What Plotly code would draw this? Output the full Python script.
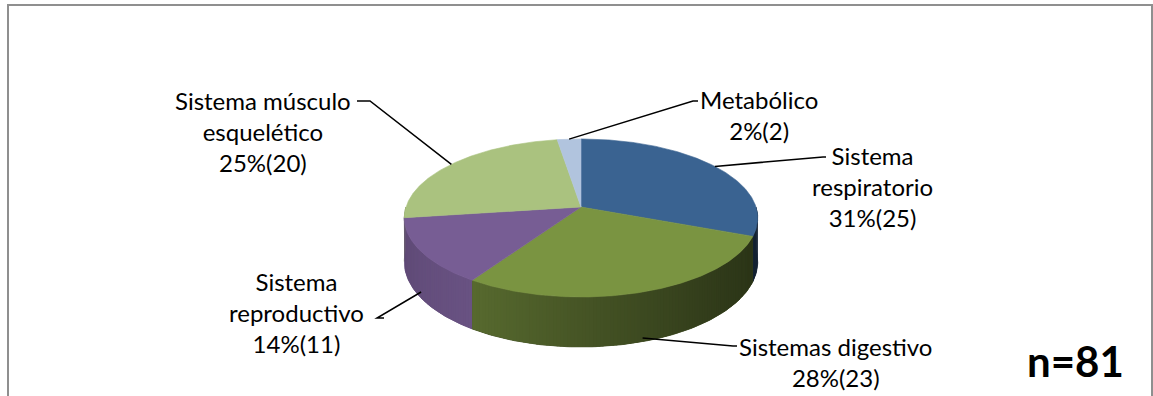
import numpy as np
import plotly.graph_objects as go

# Data
categories = ["Sistema respiratorio", "Sistemas digestivo", "Sistema reproductivo",
              "Sistema músculo esquelético", "Metabólico"]
counts = [25, 23, 11, 20, 2]
label_texts = [
    "Sistema<br>respiratorio<br>31%(25)",
    "Sistemas digestivo<br>28%(23)",
    "Sistema<br>reproductivo<br>14%(11)",
    "Sistema músculo<br>esquelético<br>25%(20)",
    "Metabólico<br>2%(2)",
]
top_colors = ["#3A6391", "#7A9441", "#775D94", "#AAC27F", "#B1C4DE"]
total_label = "n=81"

# Pie geometry (drawing units = pixels of the canvas)
CX, CY = 581.0, 207.0      # centre of the top face
A, B = 175.0, 77.5         # radii of the tilted disc
K = 0.139                  # perspective strength (front looks larger)
H = 43.0                   # thickness of the disc

def proj(phi_deg, r=1.0, depth=0.0):
    phi = np.radians(phi_deg)
    u = r * np.sin(phi)
    v = -r * np.cos(phi)
    s = 1.0 / (1.0 - K * v)
    return CX + A * u * s, CY + B * v * s + H * depth * s

def shade(hex_color, f):
    h = hex_color.lstrip("#")
    rgb = [int(h[i:i + 2], 16) for i in (0, 2, 4)]
    return "rgb({},{},{})".format(*[int(round(c * f)) for c in rgb])

def side_factor(i, phi):
    """Brightness of the side wall at angle phi for slice i."""
    if i == 2:
        return 0.78 + 0.10 * (bounds[i + 1] - phi) / (bounds[i + 1] - bounds[i])
    xm, _ = proj(phi)
    t = (xm - (CX - A)) / (2 * A)
    return 0.80 - 0.45 * t

total = sum(counts)
bounds = np.concatenate([[0.0], np.cumsum(counts) / total * 360.0])

fig = go.Figure()

def side_polygon(p0, p1, n=6):
    arc = np.linspace(p0, p1, n)
    top = [proj(a) for a in arc]
    bot = [proj(a, depth=1.0) for a in arc[::-1]]
    pts = top + bot
    return [p[0] for p in pts], [p[1] for p in pts]

# Side wall: a solid base per slice, then gradient strips painted back to front
base_items = []
strip_items = []
step = 1.0
for i, c in enumerate(top_colors):
    a0, a1 = max(bounds[i], 90.0), min(bounds[i + 1], 270.0)
    if a1 <= a0:
        continue
    xs, ys = side_polygon(a0, a1, n=max(4, int(a1 - a0)))
    mid_all = 0.5 * (a0 + a1)
    base_items.append((-np.cos(np.radians(mid_all)), xs, ys, shade(c, side_factor(i, mid_all))))
    n = max(1, int(np.ceil((a1 - a0) / step)))
    edges = np.linspace(a0, a1, n + 1)
    for j in range(n):
        p0, p1 = edges[j], min(edges[j + 1] + 0.35, a1)
        mid = 0.5 * (edges[j] + edges[j + 1])
        xs, ys = side_polygon(p0, p1, n=3)
        strip_items.append((-np.cos(np.radians(mid)), xs, ys, shade(c, side_factor(i, mid))))

for _, xs, ys, col in sorted(base_items, key=lambda q: q[0]):
    fig.add_trace(go.Scatter(x=xs, y=ys, mode="lines", fill="toself",
                             fillcolor=col, line=dict(color=col, width=0.8),
                             hoverinfo="skip", showlegend=False))
for _, xs, ys, col in sorted(strip_items, key=lambda q: q[0]):
    fig.add_trace(go.Scatter(x=xs, y=ys, mode="lines", fill="toself",
                             fillcolor=col, line=dict(width=0),
                             hoverinfo="skip", showlegend=False))

# Top faces of the slices
for i, c in enumerate(top_colors):
    arc = np.linspace(bounds[i], bounds[i + 1], max(3, int((bounds[i + 1] - bounds[i]) / 0.5)))
    pts = [proj(a) for a in arc]
    xs = [CX] + [p[0] for p in pts] + [CX]
    ys = [CY] + [p[1] for p in pts] + [CY]
    fig.add_trace(go.Scatter(x=xs, y=ys, mode="lines", fill="toself",
                             fillcolor=c, line=dict(color=c, width=0.6),
                             hoverinfo="skip", showlegend=False,
                             name=categories[i]))

# Label placement: text centre and leader-line elbow, anchor on the slice
label_pos = [(872, 186), (835, 362), (296, 312), (263, 131), (759, 115)]
elbows = [(823, 157), (733, 346), (377, 318), (370, 101), (693, 101)]
elbow_ends = [(826, 157), (737, 346), (384, 318), (357, 101), (698, 101)]
anchor_depth = [0.0, 0.93, 0.87, 0.0, 0.0]

shapes = []
annotations = []
for i in range(len(counts)):
    mid = 0.5 * (bounds[i] + bounds[i + 1])
    ax, ay = proj(mid, depth=anchor_depth[i])
    ex, ey = elbows[i]
    tx, ty = elbow_ends[i]
    shapes.append(dict(type="path", xref="x", yref="y",
                       path=f"M {ax:.1f},{ay:.1f} L {ex},{ey} L {tx},{ty}",
                       line=dict(color="black", width=1.5)))
    lx, ly = label_pos[i]
    annotations.append(dict(x=lx, y=ly, xref="x", yref="y", text=label_texts[i],
                            showarrow=False, xanchor="center", yanchor="middle",
                            align="center",
                            font=dict(family="Lato", size=24, color="#000000")))

annotations.append(dict(x=1075, y=361, xref="x", yref="y", text=f"<b>{total_label}</b>",
                        showarrow=False, xanchor="center", yanchor="middle",
                        font=dict(family="Lato", size=42, color="#000000")))

# Chart frame (left and top edges visible)
shapes.append(dict(type="rect", xref="x", yref="y", x0=8, y0=5, x1=1152, y1=420,
                   line=dict(color="#8f8f8f", width=2), fillcolor="rgba(0,0,0,0)"))

fig.update_layout(
    width=1153, height=396,
    margin=dict(l=0, r=0, t=0, b=0),
    paper_bgcolor="white", plot_bgcolor="white",
    showlegend=False,
    xaxis=dict(range=[0, 1153], visible=False, fixedrange=True),
    yaxis=dict(range=[396, 0], visible=False, fixedrange=True),
    shapes=shapes, annotations=annotations,
)

fig.write_html("out.html")
